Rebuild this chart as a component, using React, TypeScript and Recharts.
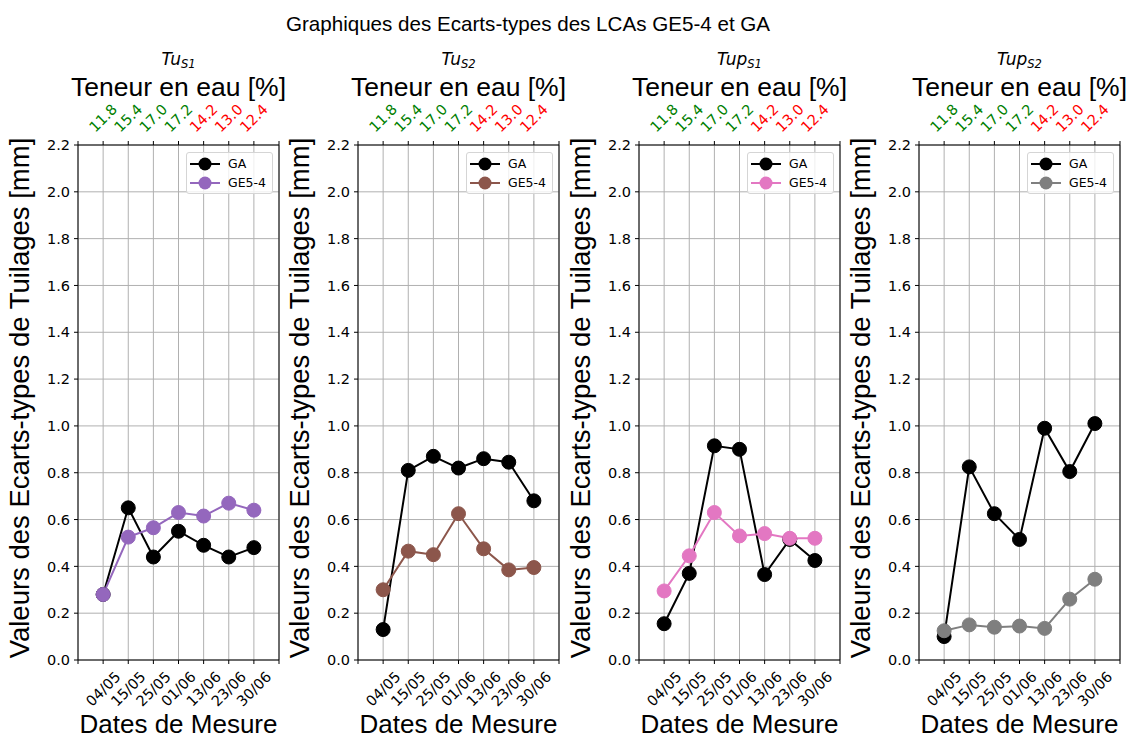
import React from "react";
import {
  LineChart,
  Line,
  XAxis,
  YAxis,
  CartesianGrid,
  Legend,
  ReferenceLine,
} from "recharts";

// dates of measurement (bottom axis) and moisture content (top axis)
const dates = ["04/05", "15/05", "25/05", "01/06", "13/06", "23/06", "30/06"];
const moisture = ["11.8", "15.4", "17.0", "17.2", "14.2", "13.0", "12.4"];
const moistureColors = ["#008000", "#008000", "#008000", "#008000", "#ff0000", "#ff0000", "#ff0000"];

const yTicks = [0, 0.2, 0.4, 0.6, 0.8, 1.0, 1.2, 1.4, 1.6, 1.8, 2.0, 2.2];
const xTicks = [-1, 0, 1, 2, 3, 4, 5, 6, 7];

// standard deviations per panel
const gaTuS1 = [0.28, 0.65, 0.44, 0.55, 0.49, 0.44, 0.48];
const geTuS1 = [0.28, 0.525, 0.565, 0.63, 0.615, 0.67, 0.64];

const gaTuS2 = [0.13, 0.81, 0.87, 0.82, 0.86, 0.845, 0.68];
const geTuS2 = [0.3, 0.465, 0.45, 0.625, 0.475, 0.385, 0.395];

const gaTupS1 = [0.155, 0.37, 0.915, 0.9, 0.365, 0.515, 0.425];
const geTupS1 = [0.295, 0.445, 0.63, 0.53, 0.54, 0.52, 0.52];

const gaTupS2 = [0.1, 0.825, 0.625, 0.515, 0.99, 0.805, 1.01];
const geTupS2 = [0.125, 0.15, 0.14, 0.145, 0.135, 0.26, 0.345];

const panels = [
  { name: "Tu", sub: "S1", ga: gaTuS1, ge: geTuS1, color: "#9467bd" },
  { name: "Tu", sub: "S2", ga: gaTuS2, ge: geTuS2, color: "#8c564b" },
  { name: "Tup", sub: "S1", ga: gaTupS1, ge: geTupS1, color: "#e377c2" },
  { name: "Tup", sub: "S2", ga: gaTupS2, ge: geTupS2, color: "#7f7f7f" },
];

const panelLefts = [0, 280, 561, 841];

const W = 280;
const H = 738;
const PLOT_LEFT = 78;
const PLOT_TOP = 145;
const PLOT_BOTTOM = 78;

const tickFont = { fontFamily: "DejaVu Sans", fontSize: 14.5 };
const labelFont = "Liberation Sans";

const BottomTick = (props: any) => {
  const { x, y, payload } = props;
  const i = payload.value;
  if (i < 0 || i >= dates.length) return null;
  return (
    <text
      x={x}
      y={y + 23}
      textAnchor="middle"
      dominantBaseline="central"
      transform={`rotate(-45 ${x} ${y + 23})`}
      fill="#000"
      {...tickFont}
    >
      {dates[i]}
    </text>
  );
};

const TopTick = (props: any) => {
  const { x, y, payload } = props;
  const i = payload.value;
  if (i < 0 || i >= moisture.length) return null;
  return (
    <text
      x={x}
      y={y - 21}
      textAnchor="middle"
      dominantBaseline="central"
      transform={`rotate(-45 ${x} ${y - 21})`}
      fill={moistureColors[i]}
      {...tickFont}
    >
      {moisture[i]}
    </text>
  );
};

const LegendBox = ({ color }: { color: string }) => {
  const items = [
    { label: "GA", c: "#000" },
    { label: "GE5-4", c: color },
  ];
  return (
    <div
      style={{
        boxSizing: "border-box",
        border: "1px solid #d5d5d5",
        borderRadius: 3,
        background: "rgba(255,255,255,0.8)",
        padding: "1px 4px 0 3px",
        width: 87,
        height: 42,
        fontFamily: "DejaVu Sans",
        fontSize: 12.5,
        color: "#000",
      }}
    >
      {items.map((it) => (
        <div key={it.label} style={{ display: "flex", alignItems: "center", height: 19 }}>
          <svg width={30} height={16} style={{ marginRight: 8, flex: "none" }}>
            <line x1={0} y1={8} x2={30} y2={8} stroke={it.c} strokeWidth={2} />
            <circle cx={15} cy={8} r={6.5} fill={it.c} />
          </svg>
          <span style={{ whiteSpace: "nowrap" }}>{it.label}</span>
        </div>
      ))}
    </div>
  );
};

const Panel = ({ p }: { p: (typeof panels)[number] }) => {
  const data = dates.map((d, i) => ({ x: i, ga: p.ga[i], ge: p.ge[i] }));
  return (
    <LineChart width={W} height={H} data={data} margin={{ top: 0, right: 1, bottom: 0, left: 0 }}>
      <CartesianGrid stroke="#b0b0b0" strokeWidth={1} />
      <XAxis
        dataKey="x"
        type="number"
        domain={[-1, 7]}
        ticks={xTicks}
        interval={0}
        height={PLOT_BOTTOM}
        tickSize={4}
        tickMargin={2}
        tick={<BottomTick />}
        axisLine={{ stroke: "#000" }}
        tickLine={{ stroke: "#000" }}
      />
      <XAxis
        xAxisId="top"
        orientation="top"
        dataKey="x"
        type="number"
        domain={[-1, 7]}
        ticks={xTicks}
        interval={0}
        height={PLOT_TOP}
        tickSize={4}
        tickMargin={2}
        tick={<TopTick />}
        axisLine={{ stroke: "#000" }}
        tickLine={{ stroke: "#000" }}
      />
      <YAxis
        type="number"
        domain={[0, 2.2]}
        ticks={yTicks}
        interval={0}
        width={PLOT_LEFT}
        tickSize={4}
        tickMargin={4}
        tickFormatter={(v: number) => v.toFixed(1)}
        tick={{ fill: "#000", ...tickFont }}
        axisLine={{ stroke: "#000" }}
        tickLine={{ stroke: "#000" }}
      />
      <ReferenceLine x={7} stroke="#000" />
      <Legend
        layout="vertical"
        align="center"
        verticalAlign="middle"
        content={() => <LegendBox color={p.color} />}
        wrapperStyle={{ position: "absolute", top: 152, left: 186, right: "auto", bottom: "auto", width: 87, height: 42 }}
      />
      <Line
        dataKey="ga"
        name="GA"
        stroke="#000"
        strokeWidth={2}
        dot={{ r: 7, fill: "#000", stroke: "#000", strokeWidth: 1 }}
        activeDot={false}
        isAnimationActive={false}
      />
      <Line
        dataKey="ge"
        name="GE5-4"
        stroke={p.color}
        strokeWidth={2}
        dot={{ r: 7, fill: p.color, stroke: p.color, strokeWidth: 1 }}
        activeDot={false}
        isAnimationActive={false}
      />
    </LineChart>
  );
};

export default function App() {
  return (
    <div style={{ position: "absolute", left: 0, top: 0, width: 1134, height: 738, background: "#fff" }}>
      {panels.map((p, k) => (
        <div key={k} style={{ position: "absolute", left: panelLefts[k], top: 0 }}>
          <Panel p={p} />
        </div>
      ))}
      <svg width={1134} height={738} style={{ position: "absolute", left: 0, top: 0, pointerEvents: "none" }}>
        <text x={528} y={31} textAnchor="middle" fontFamily={labelFont} fontSize={20.6} fill="#000">
          Graphiques des Ecarts-types des LCAs GE5-4 et GA
        </text>
        {panels.map((p, k) => {
          const cx = panelLefts[k] + PLOT_LEFT + 100.5;
          const lx = panelLefts[k] + 29;
          return (
            <g key={k}>
              <text x={cx} y={65} textAnchor="middle" fontFamily="DejaVu Sans" fontStyle="italic" fontSize={17} fill="#000">
                {p.name}
                <tspan fontSize={11.5} dy={3}>{p.sub}</tspan>
              </text>
              <text x={cx} y={96} textAnchor="middle" fontFamily={labelFont} fontSize={26.5} fill="#000">
                Teneur en eau [%]
              </text>
              <text x={cx} y={733} textAnchor="middle" fontFamily={labelFont} fontSize={26} fill="#000">
                Dates de Mesure
              </text>
              <text
                x={lx}
                y={398}
                textAnchor="middle"
                transform={`rotate(-90 ${lx} ${398})`}
                fontFamily={labelFont}
                fontSize={27.5}
                fill="#000"
              >
                Valeurs des Ecarts-types de Tuilages [mm]
              </text>
            </g>
          );
        })}
      </svg>
    </div>
  );
}
